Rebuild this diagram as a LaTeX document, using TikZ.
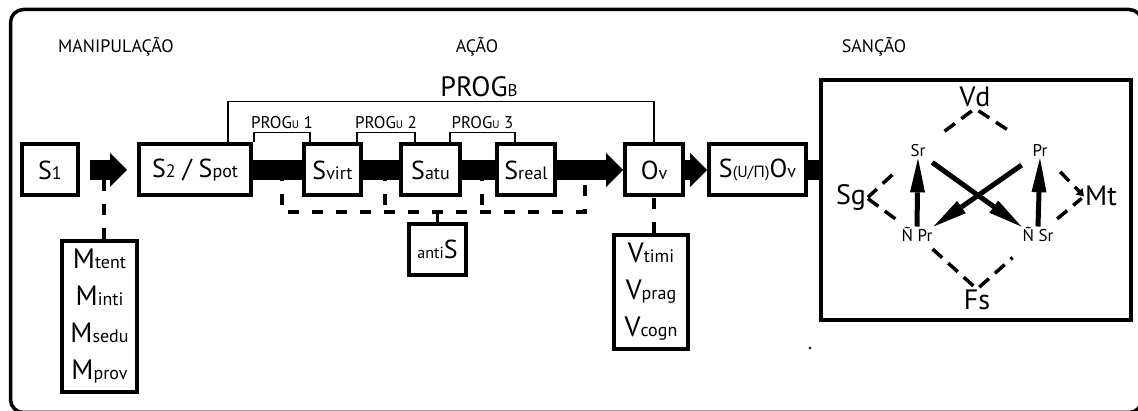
\documentclass[tikz,border=0pt]{standalone}
\usepackage{fontspec}
\setmainfont{PT Sans}
\newfontfamily\grkfont{Noto Sans}
\usetikzlibrary{positioning, arrows.meta, calc, backgrounds}
\newcommand\lo[1]{{\fontsize{18}{18}\selectfont #1}}
\newcommand\lom[1]{{\fontsize{16}{16}\selectfont #1}}
\newcommand\lou[1]{{\fontsize{11}{11}\selectfont #1}}
\tikzset{
  box/.style={draw, line width=4pt, fill=white, minimum height=51pt,
              inner sep=2pt, font=\fontsize{26}{30}\selectfont},
  listbox/.style={draw, line width=4pt, fill=white, align=center,
                  inner sep=2pt, font=\fontsize{28}{37}\selectfont},
  stage/.style={anchor=base, inner sep=0pt, font=\fontsize{18}{20}\selectfont},
  lbl/.style={anchor=base, inner sep=1pt, font=\fontsize{28}{30}\selectfont},
  vtx/.style={anchor=base, inner sep=1pt, font=\fontsize{17}{18}\selectfont},
  plbl/.style={inner sep=0pt, font=\fontsize{17}{18}\selectfont},
  bar/.style={line width=20pt},
  barA/.style={line width=20pt, -{Triangle[length=17pt, width=34pt, line width=0pt]}},
  brk/.style={line width=1.3pt},
  dashln/.style={line width=4pt, dash pattern=on 11pt off 13pt},
  dashdm/.style={line width=3.5pt, dash pattern=on 13pt off 8pt},
  thk/.style={line width=5pt, -{Triangle[length=34pt, width=15pt, line width=0pt]}},
}
\begin{document}
\begin{tikzpicture}[x=1pt, y=-1pt]
  \useasboundingbox (0,0) rectangle (1138,411);

  \node[stage] (hmanip) at (116,53) {MANIPULAÇÃO};
  \node[stage] (hacao) at (477,53) {AÇÃO};
  \node[stage] (hsanc) at (874,53) {SANÇÃO};

  \node[box, minimum width=56pt] (s1) at (50,170) {S\lo{1}};
  \node[box, minimum width=112pt, right=57pt of s1] (s2) {S\lo{2} / S\lo{pot}};
  \node[box, minimum width=57pt, right=49pt of s2] (svirt) {S\lo{virt}};
  \node[box, minimum width=59pt, right=36pt of svirt] (satu) {S\lo{atu}};
  \node[box, minimum width=58pt, right=33pt of satu] (sreal) {S\lo{real}};
  \node[box, minimum width=58pt, right=66pt of sreal] (ov) {O\lo{v}};
  \node[box, minimum width=97pt, right=22pt of ov] (suo)
    {S\lom{(U/{\grkfont Π})}O\lo{v}};
  \node[draw, line width=4pt, minimum width=310pt, minimum height=240pt] (sanc)
    at (976,200) {};

  \node[listbox, minimum width=75pt, minimum height=151pt] (mbox) at (99.5,316.5)
    {M\lo{tent}\\M\lo{inti}\\M\lo{sedu}\\M\lo{prov}};
  \node[listbox, minimum width=74pt, minimum height=114pt] (vbox) at (651,292)
    {V\lo{timi}\\V\lo{prag}\\V\lo{cogn}};
  \node[box, minimum width=57pt] (antis) at (437.5,249.5) {\lom{anti}S};

  \coordinate (g1) at ($(s2.east)!.6!(svirt.west)$);
  \coordinate (g2) at ($(svirt.east)!.6!(satu.west)$);
  \coordinate (g3) at ($(satu.east)!.6!(sreal.west)$);
  \coordinate (g4) at ($(sreal.east)!.42!(ov.west)$);
  \coordinate (dl) at ($(g1)+(0,42)$);
  \coordinate (mj) at (104,170);

  \begin{scope}[on background layer]
    \draw[line width=3.5pt, rounded corners=13pt] (10.5,9.5) rectangle (1142,412.5);
    \draw[dashln] (g1) -- (dl) -| (g4);
    \draw[dashln] (g2) -- (g2 |- dl);
    \draw[dashln] (g3) -- (g3 |- dl);
    \draw[dashln] (mbox.north -| mj) -- (mj);
    \draw[dashln] (ov.south |- vbox.north) -- (ov.south);
    \draw[barA, shorten <=10pt, shorten >=10pt] (s1.east) -- (s2.west);
    \draw[barA] (s2.east) -- (ov.west);
    \draw[barA] (ov.east) -- (suo.west);
    \draw[bar] (suo.east) -- (suo.east -| sanc.west);
  \end{scope}

  \draw[line width=3pt] (antis.north) -- (antis.north |- dl);

  \draw[brk] ([xshift=-25pt]s2.north east) -- ++(0,-41) -| (ov.north);
  \node[anchor=base, inner sep=0pt, font=\fontsize{28}{30}\selectfont] (progb)
    at (479,97) {PROG{\fontsize{17}{17}\selectfont B}};
  \draw[brk] ([xshift=1pt]s2.north east) -- ++(0,-10)
    -| node[plbl, pos=.25, above=3pt] (pu1) {PROG\lou{U} 1} ([xshift=8pt]svirt.north west);
  \draw[brk] ([xshift=-6pt]svirt.north east) -- ++(0,-10)
    -| node[plbl, pos=.25, above=3pt] (pu2) {PROG\lou{U} 2} ([xshift=16pt]satu.north west);
  \draw[brk] ([xshift=-12pt]satu.north east) -- ++(0,-10)
    -| node[plbl, pos=.25, above=3pt] (pu3) {PROG\lou{U} 3} ([xshift=20pt]sreal.north west);

  \node[lbl] (vd) at (975,107) {Vd};
  \node[lbl] (sg) at (851,205) {Sg};
  \node[lbl] (mt) at (1101,206) {Mt};
  \node[lbl] (fs) at (977,310) {Fs};
  \node[vtx] (sr) at (918,157) {Sr};
  \node[vtx] (pr) at (1040,157) {Pr};
  \node[vtx] (npr) at (917,242) {Ñ Pr};
  \node[vtx] (nsr) at (1038,242) {Ñ Sr};

  \draw[thk] (npr.north) -- (sr.south);
  \draw[thk] (nsr.north) -- (pr.south);
  \draw[thk, shorten <=7pt] (sr.south east) -- (nsr.north west);
  \draw[thk, shorten <=12pt] (pr.south west) -- (npr.north east);

  \draw[dashdm, shorten <=4pt, shorten >=29pt] (vd.south) -- (sr.center);
  \draw[dashdm, shorten <=35pt, shorten >=1pt] (sr.center) -- (sg.east);
  \draw[dashdm, shorten <=4pt, shorten >=37pt] (vd.south) -- (pr.center);
  \draw[dashdm, shorten <=29pt, -{Triangle[length=7pt, width=9pt]}] (pr.center) -- (mt.west);
  \draw[dashdm, shorten <=1pt, shorten >=26pt] (sg.east) -- (npr.center);
  \draw[dashdm, shorten <=21pt, shorten >=3pt] (npr.center) -- (fs.north);
  \draw[dashdm, shorten <=3pt, shorten >=34pt] (fs.north) -- (nsr.center);
  \draw[dashdm, shorten <=25pt, shorten >=3pt] (nsr.center) -- (mt.west);

  \fill (810,348) circle (1.3pt);
\end{tikzpicture}
\end{document}
